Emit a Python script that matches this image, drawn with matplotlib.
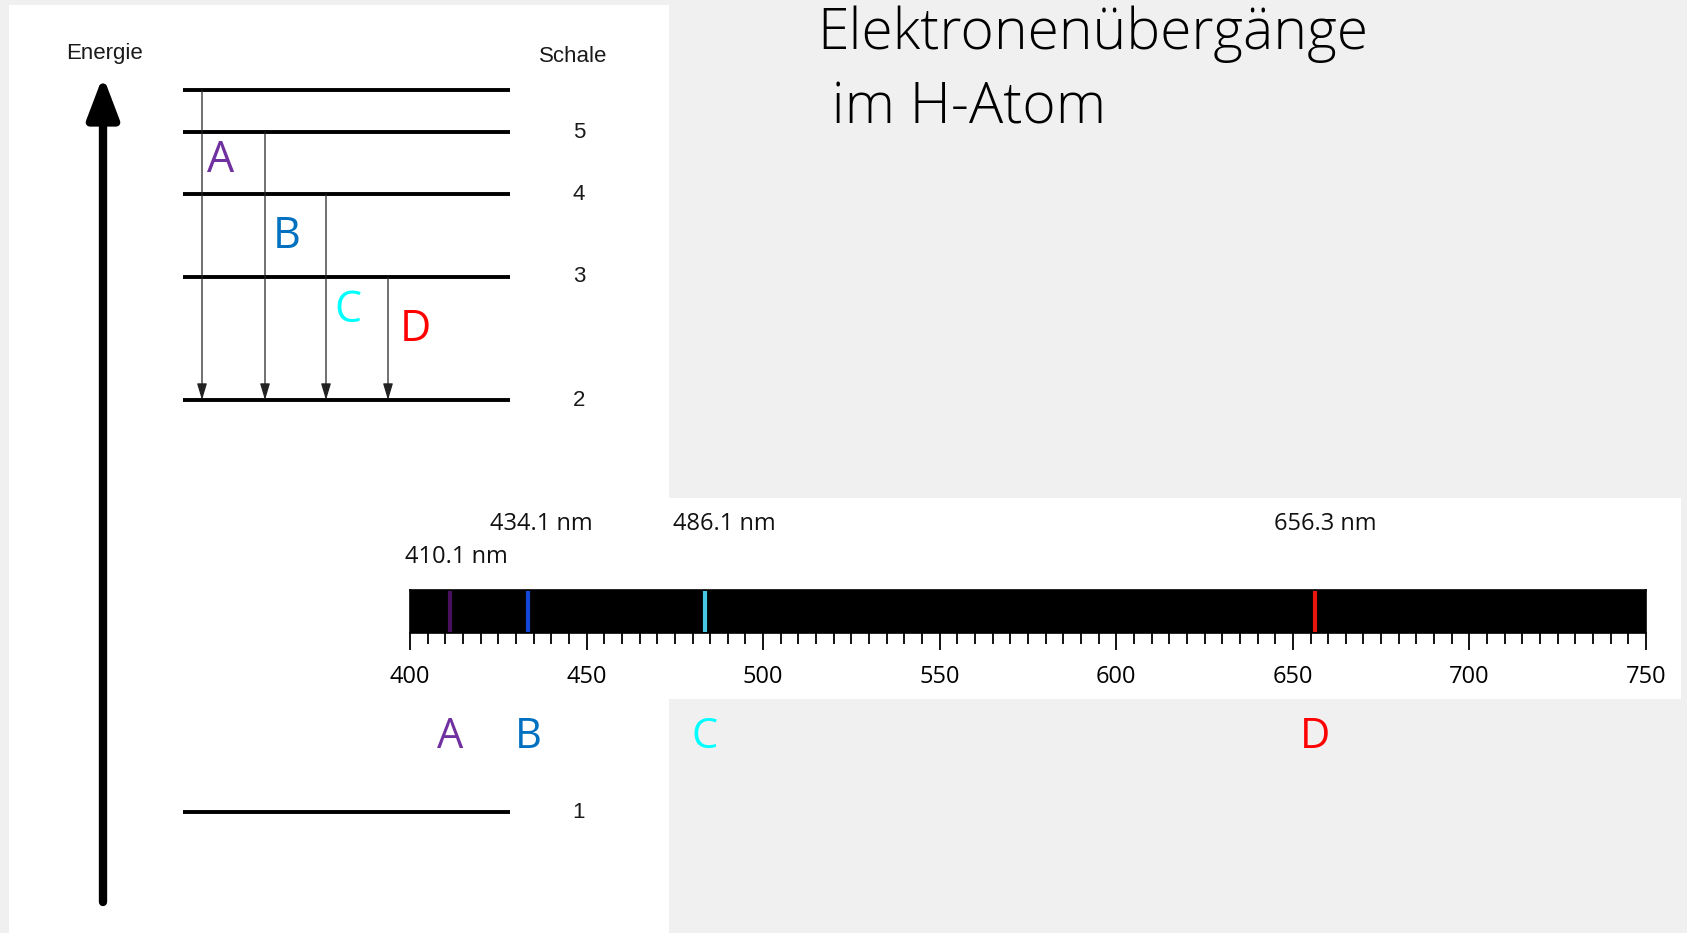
import matplotlib
matplotlib.use("Agg")
import matplotlib.pyplot as plt
from matplotlib.patches import Rectangle

# --- data ---------------------------------------------------------------
# schematic energy levels (arbitrary units, shell number -> height)
shells = [1, 2, 3, 4, 5, 6]
level_height = [121, 533, 656, 739, 801, 843]
shell_labels = ["1", "2", "3", "4", "5", ""]

# transitions down to shell 2 (Balmer series)
trans_from = [6, 5, 4, 3]
trans_to = [2, 2, 2, 2]
trans_names = ["A", "B", "C", "D"]
trans_colors = ["#7030a0", "#0070c0", "#00ffff", "#ff0000"]

# spectral lines (labels and where the lines sit on the drawn scale)
wavelengths = [410.1, 434.1, 486.1, 656.3]
line_pos = [411.3, 433.5, 483.5, 656.2]
line_colors = ["#4a1060", "#1446d8", "#46c8e4", "#e8160c"]
wl_labels = ["410.1 nm", "434.1 nm", "486.1 nm", "656.3 nm"]
major_ticks = [400, 450, 500, 550, 600, 650, 700, 750]

W, H = 1687, 933
fig = plt.figure(figsize=(W / 100, H / 100), dpi=100, facecolor="#f0f0f0")

# white panels behind the picture
fig.patches.append(Rectangle((9 / W, 0), 660 / W, 928 / H, transform=fig.transFigure,
                             facecolor="white", edgecolor="none", zorder=-5))
fig.patches.append(Rectangle((669 / W, 234 / H), 1012 / W, 201 / H, transform=fig.transFigure,
                             facecolor="white", edgecolor="none", zorder=-5))

# --- energy level diagram --------------------------------------------------
ax = fig.add_axes([9 / W, 0, 660 / W, 928 / H])
ax.set_xlim(0, 660)
ax.set_ylim(0, 928)
ax.axis("off")
ax.patch.set_alpha(0)

lvl = dict(zip(shells, level_height))
x0, x1 = 174, 501
for s, h, lab in zip(shells, level_height, shell_labels):
    ax.plot([x0, x1], [h, h], color="black", lw=2.8, solid_capstyle="butt")
    if lab:
        ax.text(570, h, lab, ha="center", va="center", fontsize=16,
                family="Liberation Sans", color="#1a1a1a")

ax.text(95, 879, "Energie", ha="center", va="center", fontsize=16,
        family="Liberation Sans", color="#1a1a1a")
ax.text(564, 877, "Schale", ha="center", va="center", fontsize=16,
        family="Liberation Sans", color="#1a1a1a")

# big energy arrow
ax.annotate("", xy=(94, 857), xytext=(94, 31),
            arrowprops=dict(arrowstyle="-|>,head_length=2.5,head_width=0.95",
                            lw=6, color="black", shrinkA=0, shrinkB=0))

tx = [193, 256, 317, 379]
label_off = [(19, -71), (22, -105), (22, -117), (27, -53)]
for x, a, b, name, c, off in zip(tx, trans_from, trans_to, trans_names, trans_colors, label_off):
    ax.annotate("", xy=(x, lvl[b]), xytext=(x, lvl[a]),
                arrowprops=dict(arrowstyle="-|>,head_length=1.0,head_width=0.3",
                                lw=0.9, color="#222222", shrinkA=0, shrinkB=0))
    ax.text(x + off[0], lvl[a] + off[1], name, color=c, fontsize=31,
            family="Open Sans", ha="center", va="center")

# --- spectrum ---------------------------------------------------------------
axs = fig.add_axes([410 / W, 300 / H, 1236 / W, 43 / H])
axs.set_facecolor("black")
axs.set_xlim(400, 750)
axs.set_ylim(0, 1)
axs.set_yticks([])
for sp in axs.spines.values():
    sp.set_color("black")
    sp.set_linewidth(1.2)
axs.set_xticks(major_ticks)
axs.set_xticks(range(400, 751, 5), minor=True)
axs.tick_params(axis="x", which="major", length=12, width=1.3, pad=11, labelsize=17)
axs.tick_params(axis="x", which="minor", length=8, width=1.3)
for t in axs.get_xticklabels():
    t.set_family("Open Sans")

for p, c in zip(line_pos, line_colors):
    axs.axvline(p, ymin=0.08, ymax=0.92, color=c, lw=3)

tr = axs.get_xaxis_transform()
label_y = [1.77, 2.53, 2.53, 2.53]
for wl, lab, y in zip(wavelengths, wl_labels, label_y):
    axs.text(wl + 3, y, lab, transform=tr, ha="center", va="center", fontsize=17,
             family="Open Sans", color="#111111")

for p, name, c in zip(line_pos, trans_names, trans_colors):
    axs.text(p, -2.42, name, transform=tr, ha="center", va="center", fontsize=30,
             family="Open Sans", color=c)

# --- title ---------------------------------------------------------------
fig.text(817 / W, 1 - 34 / H, "Elektronenübergänge", ha="left", va="center",
         fontsize=41, family="Open Sans", fontweight="light")
fig.text(817 / W, 1 - 109 / H, " im H-Atom", ha="left", va="center",
         fontsize=41, family="Open Sans", fontweight="light")

fig.savefig("out.png", dpi=100, facecolor=fig.get_facecolor())
